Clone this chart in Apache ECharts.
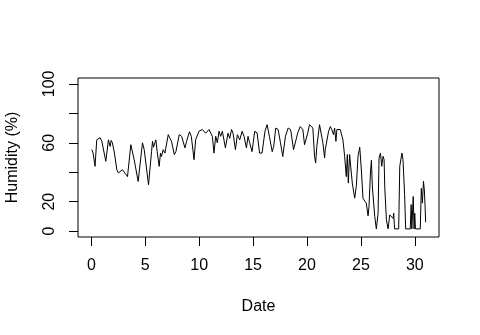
<!DOCTYPE html>
<html>
<head>
<meta charset="utf-8">
<script src="https://cdn.jsdelivr.net/npm/echarts@6.0.0/dist/echarts.min.js"></script>
<style>
  html, body { margin: 0; padding: 0; background: #fff; }
  #chart { width: 480px; height: 335px; }
</style>
</head>
<body>
<div id="chart"></div>
<script>
// 读图估计的数据（天, 湿度%）
var days = [
    0.04, 0.16, 0.19, 0.34, 0.5, 0.81, 0.97, 1.34, 1.58, 1.74, 1.83, 1.95, 2.14, 2.36, 2.51, 2.57, 2.88, 3.04, 3.35,
    3.66, 3.81, 3.97, 4.34, 4.74, 4.9, 5.3, 5.58, 5.67, 5.76, 5.98, 6.1, 6.29, 6.41, 6.5, 6.66, 6.82, 7.13, 7.29,
    7.43, 7.69, 7.84, 8.15, 8.37, 8.68, 8.83, 9.1, 9.27, 9.52, 9.67, 9.98, 10.29, 10.6, 10.91, 11.22, 11.37, 11.53,
    11.68, 11.84, 11.99, 12.15, 12.3, 12.43, 12.67, 12.83, 13.0, 13.14, 13.36, 13.54, 13.76, 13.98, 14.16, 14.38,
    14.53, 14.68, 14.9, 15.15, 15.31, 15.37, 15.6, 15.68, 15.83, 16.1, 16.3, 16.51, 16.77, 16.91, 17.1, 17.32, 17.54,
    17.75, 18.0, 18.25, 18.47, 18.53, 18.75, 18.93, 19.14, 19.37, 19.61, 19.77, 19.93, 20.07, 20.23, 20.39, 20.54,
    20.7, 20.8, 20.91, 21.16, 21.32, 21.47, 21.63, 21.69, 22.0, 22.16, 22.3, 22.46, 22.56, 22.68, 22.77, 22.93, 23.08,
    23.33, 23.49, 23.64, 23.74, 23.83, 23.95, 24.05, 24.2, 24.42, 24.57, 24.73, 24.89, 25.04, 25.19, 25.35, 25.5,
    25.66, 25.75, 25.88, 25.97, 26.06, 26.28, 26.43, 26.59, 26.68, 26.81, 26.93, 27.05, 27.15, 27.21, 27.36, 27.52,
    27.67, 27.83, 27.98, 28.04, 28.12, 28.5, 28.6, 28.8, 28.9, 29.05, 29.15, 29.57, 29.66, 29.72, 29.85, 29.93,
    29.99, 30.06, 30.5, 30.6, 30.7, 30.8, 30.88, 30.95, 31.0
];
var humidity = [
    55.3, 53, 52, 44, 62, 63.5, 61, 47.4, 62, 57.5, 61.6, 60, 53, 41.7, 39.5, 40.5, 41.7, 40.5, 37,
    58.7, 57.6, 48.5, 33.7, 60, 55.3, 31.5, 54, 61, 57, 62, 54, 44, 53, 50.7, 55.3, 53, 65.5, 63,
    61, 52, 54, 65.5, 64.4, 56.5, 61, 67.5, 64.4, 48.5, 62, 67.8, 69, 66.5, 69, 64.4, 53, 64.4,
    60, 67.8, 64.4, 67.8, 66.5, 56.5, 66.5, 63, 69, 66.5, 55.3, 65.5, 62, 67.8, 64.4, 56.5,
    64.4, 60, 54, 67.8, 69, 66.7, 53, 54, 53, 67.8, 72.3, 64.4, 54, 57.6, 70, 69, 60,
    50.7, 64.4, 70, 69, 66.7, 55.3, 56.5, 66.7, 71, 69, 58.7, 57.6, 66.7, 72.3, 71, 70,
    50.7, 46.3, 57.6, 72.3, 72.3, 60, 49.7, 55.3, 67.8, 71, 69, 65.5, 70, 61, 69, 70, 69,
    62, 50.8, 37, 52, 32.6, 52, 44, 32.6, 22.4, 30.4, 50.8, 57, 41.5, 22.4, 20.4, 19,
    10.4, 16.8, 39.5, 48.1, 30, 10, 1.4, 12.2, 49.7, 53, 44, 50.8, 48.5, 30, 7.7, 1.5,
    11, 12.2, 8.6, 12.2, 1.5, 1.5, 44, 53, 48.5, 25, 1.5, 1.5, 18, 1.5, 23.5, 1.5,
    12.2, 1.5, 1.5, 29, 19, 33.8, 28, 16.8, 6
];
var xTicks = [0, 5, 10, 15, 20, 25, 30];
var yTicks = [0, 20, 40, 60, 80, 100];
var yLabels = [0, 20, 60, 100];

var font = 'Liberation Sans, Arial, sans-serif';
var chart = echarts.init(document.getElementById('chart'));

chart.setOption({
    backgroundColor: '#fff',
    animation: false,
    grid: {
        left: 78, right: 41, top: 78, bottom: 98,
        show: true, borderColor: '#000', borderWidth: 1,
        outerBoundsMode: 'none'
    },
    xAxis: {
        type: 'value',
        min: -1.24, max: 32.24,
        name: 'Date', nameLocation: 'middle', nameGap: 62,
        nameTextStyle: { color: '#000', fontSize: 16, fontFamily: font },
        axisLine: { show: false, onZero: false },
        splitLine: { show: false },
        axisTick: { show: true, customValues: xTicks, length: 9, lineStyle: { color: '#000' } },
        axisLabel: { customValues: xTicks, margin: 21, color: '#000', fontSize: 16, fontFamily: font }
    },
    yAxis: {
        type: 'value',
        min: -4, max: 104,
        name: 'Humidity (%)', nameLocation: 'middle', nameGap: 57,
        nameTextStyle: { color: '#000', fontSize: 16, fontFamily: font },
        axisLine: { show: false, onZero: false },
        splitLine: { show: false },
        axisTick: { show: true, customValues: yTicks, length: 9, lineStyle: { color: '#000' } },
        axisLabel: { customValues: yLabels, rotate: 90, margin: 20, color: '#000', fontSize: 16, fontFamily: font }
    },
    series: [{
        type: 'line',
        data: days.map(function (d, i) { return [d, humidity[i]]; }),
        showSymbol: false,
        lineStyle: { color: '#000', width: 1 }
    }]
});
</script>
</body>
</html>
